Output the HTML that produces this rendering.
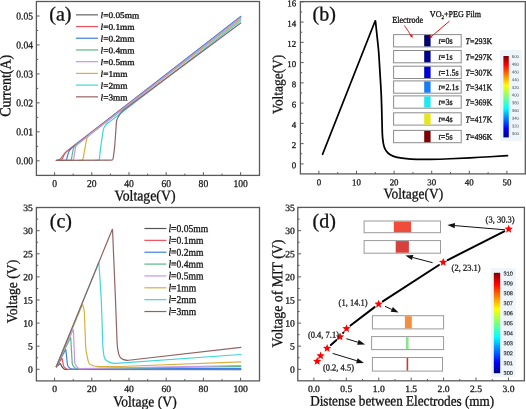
<!DOCTYPE html><html><head><meta charset="utf-8"><style>html,body{margin:0;padding:0;background:#fff;overflow:hidden}svg{display:block;filter:blur(0.3px)}</style></head><body>
<svg width="526" height="409" viewBox="0 0 526 409">
<rect width="526" height="409" fill="#fff"/>
<rect x="36.4" y="1.5" width="223.1" height="173.9" fill="none" stroke="#5a5a5a" stroke-width="1.3"/>
<line x1="54.6" y1="175.4" x2="54.6" y2="172.2" stroke="#5a5a5a" stroke-width="1"/>
<line x1="91.8" y1="175.4" x2="91.8" y2="172.2" stroke="#5a5a5a" stroke-width="1"/>
<line x1="129" y1="175.4" x2="129" y2="172.2" stroke="#5a5a5a" stroke-width="1"/>
<line x1="166.2" y1="175.4" x2="166.2" y2="172.2" stroke="#5a5a5a" stroke-width="1"/>
<line x1="203.4" y1="175.4" x2="203.4" y2="172.2" stroke="#5a5a5a" stroke-width="1"/>
<line x1="240.6" y1="175.4" x2="240.6" y2="172.2" stroke="#5a5a5a" stroke-width="1"/>
<line x1="73.2" y1="175.4" x2="73.2" y2="173.6" stroke="#5a5a5a" stroke-width="1"/>
<line x1="110.4" y1="175.4" x2="110.4" y2="173.6" stroke="#5a5a5a" stroke-width="1"/>
<line x1="147.6" y1="175.4" x2="147.6" y2="173.6" stroke="#5a5a5a" stroke-width="1"/>
<line x1="184.8" y1="175.4" x2="184.8" y2="173.6" stroke="#5a5a5a" stroke-width="1"/>
<line x1="222" y1="175.4" x2="222" y2="173.6" stroke="#5a5a5a" stroke-width="1"/>
<line x1="36.4" y1="160.8" x2="39.6" y2="160.8" stroke="#5a5a5a" stroke-width="1"/>
<line x1="36.4" y1="131.84" x2="39.6" y2="131.84" stroke="#5a5a5a" stroke-width="1"/>
<line x1="36.4" y1="102.88" x2="39.6" y2="102.88" stroke="#5a5a5a" stroke-width="1"/>
<line x1="36.4" y1="73.92" x2="39.6" y2="73.92" stroke="#5a5a5a" stroke-width="1"/>
<line x1="36.4" y1="44.96" x2="39.6" y2="44.96" stroke="#5a5a5a" stroke-width="1"/>
<line x1="36.4" y1="16" x2="39.6" y2="16" stroke="#5a5a5a" stroke-width="1"/>
<line x1="36.4" y1="146.32" x2="38.2" y2="146.32" stroke="#5a5a5a" stroke-width="1"/>
<line x1="36.4" y1="117.36" x2="38.2" y2="117.36" stroke="#5a5a5a" stroke-width="1"/>
<line x1="36.4" y1="88.4" x2="38.2" y2="88.4" stroke="#5a5a5a" stroke-width="1"/>
<line x1="36.4" y1="59.44" x2="38.2" y2="59.44" stroke="#5a5a5a" stroke-width="1"/>
<line x1="36.4" y1="30.48" x2="38.2" y2="30.48" stroke="#5a5a5a" stroke-width="1"/>
<text transform="translate(54.6 187) rotate(0.05) scale(0.92 1)" font-size="10.43" text-anchor="middle" font-family='"Liberation Serif", serif' stroke="#1a1a1a" stroke-width="0.3" fill="#1a1a1a">0</text>
<text transform="translate(91.8 187) rotate(0.05) scale(0.92 1)" font-size="10.43" text-anchor="middle" font-family='"Liberation Serif", serif' stroke="#1a1a1a" stroke-width="0.3" fill="#1a1a1a">20</text>
<text transform="translate(129 187) rotate(0.05) scale(0.92 1)" font-size="10.43" text-anchor="middle" font-family='"Liberation Serif", serif' stroke="#1a1a1a" stroke-width="0.3" fill="#1a1a1a">40</text>
<text transform="translate(166.2 187) rotate(0.05) scale(0.92 1)" font-size="10.43" text-anchor="middle" font-family='"Liberation Serif", serif' stroke="#1a1a1a" stroke-width="0.3" fill="#1a1a1a">60</text>
<text transform="translate(203.4 187) rotate(0.05) scale(0.92 1)" font-size="10.43" text-anchor="middle" font-family='"Liberation Serif", serif' stroke="#1a1a1a" stroke-width="0.3" fill="#1a1a1a">80</text>
<text transform="translate(240.6 187) rotate(0.05) scale(0.92 1)" font-size="10.43" text-anchor="middle" font-family='"Liberation Serif", serif' stroke="#1a1a1a" stroke-width="0.3" fill="#1a1a1a">100</text>
<text transform="translate(33.1 164.3) rotate(0.05) scale(0.92 1)" font-size="10.43" text-anchor="end" font-family='"Liberation Serif", serif' stroke="#1a1a1a" stroke-width="0.3" fill="#1a1a1a">0.00</text>
<text transform="translate(33.1 135.34) rotate(0.05) scale(0.92 1)" font-size="10.43" text-anchor="end" font-family='"Liberation Serif", serif' stroke="#1a1a1a" stroke-width="0.3" fill="#1a1a1a">0.01</text>
<text transform="translate(33.1 106.38) rotate(0.05) scale(0.92 1)" font-size="10.43" text-anchor="end" font-family='"Liberation Serif", serif' stroke="#1a1a1a" stroke-width="0.3" fill="#1a1a1a">0.02</text>
<text transform="translate(33.1 77.42) rotate(0.05) scale(0.92 1)" font-size="10.43" text-anchor="end" font-family='"Liberation Serif", serif' stroke="#1a1a1a" stroke-width="0.3" fill="#1a1a1a">0.03</text>
<text transform="translate(33.1 48.46) rotate(0.05) scale(0.92 1)" font-size="10.43" text-anchor="end" font-family='"Liberation Serif", serif' stroke="#1a1a1a" stroke-width="0.3" fill="#1a1a1a">0.04</text>
<text transform="translate(33.1 19.5) rotate(0.05) scale(0.92 1)" font-size="10.43" text-anchor="end" font-family='"Liberation Serif", serif' stroke="#1a1a1a" stroke-width="0.3" fill="#1a1a1a">0.05</text>
<text transform="translate(145 200.6) rotate(0.05) scale(0.92 1)" font-size="15" text-anchor="middle" font-family='"Liberation Serif", serif' stroke="#111" stroke-width="0.3" fill="#111">Voltage(V)</text>
<text transform="translate(10.4 85.8) rotate(-89.95) scale(0.92 1)" font-size="15.22" text-anchor="middle" font-family='"Liberation Serif", serif' stroke="#111" stroke-width="0.3" fill="#111">Current(A)</text>
<text transform="translate(49.3 20.6) rotate(0.05) scale(1 1)" font-size="20" text-anchor="start" font-family='"Liberation Serif", serif' stroke="#111" stroke-width="0.3" fill="#111">(a)</text>
<line x1="76" y1="14.8" x2="98" y2="14.8" stroke="#8a8a8a" stroke-width="1.6"/>
<text transform="translate(100.6 18.1) rotate(0.05) scale(1.08 1)" font-size="8.61" text-anchor="start" font-family='"Liberation Serif", serif' stroke="#111" stroke-width="0.3" fill="#111"><tspan font-style="italic">l</tspan>=0.05mm</text>
<line x1="76" y1="26.52" x2="98" y2="26.52" stroke="#f0505a" stroke-width="1.2"/>
<text transform="translate(100.6 29.82) rotate(0.05) scale(1.08 1)" font-size="8.61" text-anchor="start" font-family='"Liberation Serif", serif' stroke="#111" stroke-width="0.3" fill="#111"><tspan font-style="italic">l</tspan>=0.1mm</text>
<line x1="76" y1="38.24" x2="98" y2="38.24" stroke="#3f7fe0" stroke-width="1.2"/>
<text transform="translate(100.6 41.54) rotate(0.05) scale(1.08 1)" font-size="8.61" text-anchor="start" font-family='"Liberation Serif", serif' stroke="#111" stroke-width="0.3" fill="#111"><tspan font-style="italic">l</tspan>=0.2mm</text>
<line x1="76" y1="49.96" x2="98" y2="49.96" stroke="#58b882" stroke-width="1.2"/>
<text transform="translate(100.6 53.26) rotate(0.05) scale(1.08 1)" font-size="8.61" text-anchor="start" font-family='"Liberation Serif", serif' stroke="#111" stroke-width="0.3" fill="#111"><tspan font-style="italic">l</tspan>=0.4mm</text>
<line x1="76" y1="61.68" x2="98" y2="61.68" stroke="#c497ea" stroke-width="1.2"/>
<text transform="translate(100.6 64.98) rotate(0.05) scale(1.08 1)" font-size="8.61" text-anchor="start" font-family='"Liberation Serif", serif' stroke="#111" stroke-width="0.3" fill="#111"><tspan font-style="italic">l</tspan>=0.5mm</text>
<line x1="76" y1="73.4" x2="98" y2="73.4" stroke="#dcae3c" stroke-width="1.2"/>
<text transform="translate(100.6 76.7) rotate(0.05) scale(1.08 1)" font-size="8.61" text-anchor="start" font-family='"Liberation Serif", serif' stroke="#111" stroke-width="0.3" fill="#111"><tspan font-style="italic">l</tspan>=1mm</text>
<line x1="76" y1="85.12" x2="98" y2="85.12" stroke="#3ed6de" stroke-width="1.2"/>
<text transform="translate(100.6 88.42) rotate(0.05) scale(1.08 1)" font-size="8.61" text-anchor="start" font-family='"Liberation Serif", serif' stroke="#111" stroke-width="0.3" fill="#111"><tspan font-style="italic">l</tspan>=2mm</text>
<line x1="76" y1="96.84" x2="98" y2="96.84" stroke="#946262" stroke-width="1.2"/>
<text transform="translate(100.6 100.14) rotate(0.05) scale(1.08 1)" font-size="8.61" text-anchor="start" font-family='"Liberation Serif", serif' stroke="#111" stroke-width="0.3" fill="#111"><tspan font-style="italic">l</tspan>=3mm</text>
<path d="M56 160.4 L58.53 159.89 Q60 159.6 60.86 158.37 L62.34 156.23 Q63.2 155 64.22 153.9 L64.4 153.7 Q65.6 152.4 67 151.32 L240.7 17.2" fill="none" stroke="#8a8a8a" stroke-width="1.2" stroke-linejoin="round" stroke-linecap="round" />
<path d="M57.9 160.4 L60.71 159.98 Q61.9 159.8 62.38 158.7 L64 154.98 Q64.6 153.6 65.62 152.5 L65.9 152.2 Q67.2 150.8 68.71 149.63 L240.7 17" fill="none" stroke="#f0505a" stroke-width="1.2" stroke-linejoin="round" stroke-linecap="round" />
<path d="M62.4 160.4 L65.2 160.26 Q66.4 160.2 66.71 159.04 L68.21 153.45 Q68.6 152 69.43 150.75 L69.89 150.06 Q71 148.4 72.58 147.17 L240.7 16.4" fill="none" stroke="#3f7fe0" stroke-width="1.2" stroke-linejoin="round" stroke-linecap="round" />
<path d="M67.2 160.4 L70 160.26 Q71.2 160.2 71.42 159.02 L73.25 148.99 Q73.5 147.6 74.5 146.6 L74.5 146.6 Q75.5 145.6 76.62 144.73 L240.7 17.4" fill="none" stroke="#58b882" stroke-width="1.2" stroke-linejoin="round" stroke-linecap="round" />
<path d="M78.9 160.4 L81.4 160.27 Q82.9 160.2 83.15 158.72 L84.11 152.96 Q84.6 150 85.14 147.05 L86.44 139.97 Q86.8 138 88.06 136.45 L88.14 136.35 Q89.4 134.8 90.99 133.59 L240.7 19.3" fill="none" stroke="#dcae3c" stroke-width="1.2" stroke-linejoin="round" stroke-linecap="round" />
<path d="M95.3 160.4 L97.8 160.27 Q99.3 160.2 99.45 158.71 L100.01 152.98 Q100.5 148 101.25 143.06 L103.23 130.06 Q103.6 127.6 105.2 125.7 L105.2 125.7 Q106.8 123.8 108.8 122.33 L111.48 120.37 Q114.7 118 117.87 115.56 L240.7 20.8" fill="none" stroke="#3ed6de" stroke-width="1.2" stroke-linejoin="round" stroke-linecap="round" />
<path d="M69.5 160.4 L72.3 160.26 Q73.5 160.2 73.68 159.01 L75.37 148.08 Q75.6 146.6 76.56 145.45 L76.6 145.4 Q77.6 144.2 78.83 143.24 L240.7 17.8" fill="none" stroke="#c497ea" stroke-width="1.2" stroke-linejoin="round" stroke-linecap="round" />
<path d="M56.6 160.4 L111.4 160.21 Q112.9 160.2 113.11 158.71 L113.91 152.95 Q114.6 148 114.95 143.01 L116.39 122.49 Q116.6 119.5 118.18 116.95 L119.92 114.15 Q121.5 111.6 123.91 109.81 L240.7 23" fill="none" stroke="#946262" stroke-width="1.2" stroke-linejoin="round" stroke-linecap="round" />
<rect x="300.4" y="1.6" width="224.9" height="172.3" fill="none" stroke="#5a5a5a" stroke-width="1.3"/>
<line x1="318.9" y1="173.9" x2="318.9" y2="170.7" stroke="#5a5a5a" stroke-width="1"/>
<line x1="356.5" y1="173.9" x2="356.5" y2="170.7" stroke="#5a5a5a" stroke-width="1"/>
<line x1="394.1" y1="173.9" x2="394.1" y2="170.7" stroke="#5a5a5a" stroke-width="1"/>
<line x1="431.7" y1="173.9" x2="431.7" y2="170.7" stroke="#5a5a5a" stroke-width="1"/>
<line x1="469.3" y1="173.9" x2="469.3" y2="170.7" stroke="#5a5a5a" stroke-width="1"/>
<line x1="506.9" y1="173.9" x2="506.9" y2="170.7" stroke="#5a5a5a" stroke-width="1"/>
<line x1="337.7" y1="173.9" x2="337.7" y2="172.1" stroke="#5a5a5a" stroke-width="1"/>
<line x1="375.3" y1="173.9" x2="375.3" y2="172.1" stroke="#5a5a5a" stroke-width="1"/>
<line x1="412.9" y1="173.9" x2="412.9" y2="172.1" stroke="#5a5a5a" stroke-width="1"/>
<line x1="450.5" y1="173.9" x2="450.5" y2="172.1" stroke="#5a5a5a" stroke-width="1"/>
<line x1="488.1" y1="173.9" x2="488.1" y2="172.1" stroke="#5a5a5a" stroke-width="1"/>
<line x1="300.4" y1="163.9" x2="303.6" y2="163.9" stroke="#5a5a5a" stroke-width="1"/>
<line x1="300.4" y1="143.64" x2="303.6" y2="143.64" stroke="#5a5a5a" stroke-width="1"/>
<line x1="300.4" y1="123.38" x2="303.6" y2="123.38" stroke="#5a5a5a" stroke-width="1"/>
<line x1="300.4" y1="103.12" x2="303.6" y2="103.12" stroke="#5a5a5a" stroke-width="1"/>
<line x1="300.4" y1="82.86" x2="303.6" y2="82.86" stroke="#5a5a5a" stroke-width="1"/>
<line x1="300.4" y1="62.6" x2="303.6" y2="62.6" stroke="#5a5a5a" stroke-width="1"/>
<line x1="300.4" y1="42.34" x2="303.6" y2="42.34" stroke="#5a5a5a" stroke-width="1"/>
<line x1="300.4" y1="22.08" x2="303.6" y2="22.08" stroke="#5a5a5a" stroke-width="1"/>
<line x1="300.4" y1="1.82" x2="303.6" y2="1.82" stroke="#5a5a5a" stroke-width="1"/>
<line x1="300.4" y1="153.77" x2="302.2" y2="153.77" stroke="#5a5a5a" stroke-width="1"/>
<line x1="300.4" y1="133.51" x2="302.2" y2="133.51" stroke="#5a5a5a" stroke-width="1"/>
<line x1="300.4" y1="113.25" x2="302.2" y2="113.25" stroke="#5a5a5a" stroke-width="1"/>
<line x1="300.4" y1="92.99" x2="302.2" y2="92.99" stroke="#5a5a5a" stroke-width="1"/>
<line x1="300.4" y1="72.73" x2="302.2" y2="72.73" stroke="#5a5a5a" stroke-width="1"/>
<line x1="300.4" y1="52.47" x2="302.2" y2="52.47" stroke="#5a5a5a" stroke-width="1"/>
<line x1="300.4" y1="32.21" x2="302.2" y2="32.21" stroke="#5a5a5a" stroke-width="1"/>
<line x1="300.4" y1="11.95" x2="302.2" y2="11.95" stroke="#5a5a5a" stroke-width="1"/>
<text transform="translate(318.9 185.3) rotate(0.05) scale(1 1)" font-size="8.9" text-anchor="middle" font-family='"Liberation Serif", serif' stroke="#1a1a1a" stroke-width="0.3" fill="#1a1a1a">0</text>
<text transform="translate(356.5 185.3) rotate(0.05) scale(1 1)" font-size="8.9" text-anchor="middle" font-family='"Liberation Serif", serif' stroke="#1a1a1a" stroke-width="0.3" fill="#1a1a1a">10</text>
<text transform="translate(394.1 185.3) rotate(0.05) scale(1 1)" font-size="8.9" text-anchor="middle" font-family='"Liberation Serif", serif' stroke="#1a1a1a" stroke-width="0.3" fill="#1a1a1a">20</text>
<text transform="translate(431.7 185.3) rotate(0.05) scale(1 1)" font-size="8.9" text-anchor="middle" font-family='"Liberation Serif", serif' stroke="#1a1a1a" stroke-width="0.3" fill="#1a1a1a">30</text>
<text transform="translate(469.3 185.3) rotate(0.05) scale(1 1)" font-size="8.9" text-anchor="middle" font-family='"Liberation Serif", serif' stroke="#1a1a1a" stroke-width="0.3" fill="#1a1a1a">40</text>
<text transform="translate(506.9 185.3) rotate(0.05) scale(1 1)" font-size="8.9" text-anchor="middle" font-family='"Liberation Serif", serif' stroke="#1a1a1a" stroke-width="0.3" fill="#1a1a1a">50</text>
<text transform="translate(296.2 168.3) rotate(0.05) scale(1 1)" font-size="8.9" text-anchor="end" font-family='"Liberation Serif", serif' stroke="#1a1a1a" stroke-width="0.3" fill="#1a1a1a">0</text>
<text transform="translate(296.2 148.04) rotate(0.05) scale(1 1)" font-size="8.9" text-anchor="end" font-family='"Liberation Serif", serif' stroke="#1a1a1a" stroke-width="0.3" fill="#1a1a1a">2</text>
<text transform="translate(296.2 127.78) rotate(0.05) scale(1 1)" font-size="8.9" text-anchor="end" font-family='"Liberation Serif", serif' stroke="#1a1a1a" stroke-width="0.3" fill="#1a1a1a">4</text>
<text transform="translate(296.2 107.52) rotate(0.05) scale(1 1)" font-size="8.9" text-anchor="end" font-family='"Liberation Serif", serif' stroke="#1a1a1a" stroke-width="0.3" fill="#1a1a1a">6</text>
<text transform="translate(296.2 87.26) rotate(0.05) scale(1 1)" font-size="8.9" text-anchor="end" font-family='"Liberation Serif", serif' stroke="#1a1a1a" stroke-width="0.3" fill="#1a1a1a">8</text>
<text transform="translate(296.2 67) rotate(0.05) scale(1 1)" font-size="8.9" text-anchor="end" font-family='"Liberation Serif", serif' stroke="#1a1a1a" stroke-width="0.3" fill="#1a1a1a">10</text>
<text transform="translate(296.2 46.74) rotate(0.05) scale(1 1)" font-size="8.9" text-anchor="end" font-family='"Liberation Serif", serif' stroke="#1a1a1a" stroke-width="0.3" fill="#1a1a1a">12</text>
<text transform="translate(296.2 26.48) rotate(0.05) scale(1 1)" font-size="8.9" text-anchor="end" font-family='"Liberation Serif", serif' stroke="#1a1a1a" stroke-width="0.3" fill="#1a1a1a">14</text>
<text transform="translate(296.2 6.22) rotate(0.05) scale(1 1)" font-size="8.9" text-anchor="end" font-family='"Liberation Serif", serif' stroke="#1a1a1a" stroke-width="0.3" fill="#1a1a1a">16</text>
<text transform="translate(413.3 198.4) rotate(0.05) scale(0.92 1)" font-size="14.67" text-anchor="middle" font-family='"Liberation Serif", serif' stroke="#111" stroke-width="0.3" fill="#111">Voltage(V)</text>
<text transform="translate(282.6 84.4) rotate(-89.95) scale(0.92 1)" font-size="14.57" text-anchor="middle" font-family='"Liberation Serif", serif' stroke="#111" stroke-width="0.3" fill="#111">Voltage(V)</text>
<text transform="translate(312.6 20.6) rotate(0.05) scale(1 1)" font-size="20" text-anchor="start" font-family='"Liberation Serif", serif' stroke="#111" stroke-width="0.3" fill="#111">(b)</text>
<path d="M322.6 154.3 L375.03 21.23 Q375.4 20.3 375.51 21.29 L378.28 47.52 Q378.7 51.5 378.94 55.49 L380.79 86.02 Q381.4 96 381.64 106 L382.28 132.5 Q382.4 137.5 383.19 142.44 L383.47 144.17 Q384 147.5 385.8 150.35 L385.92 150.55 Q387.6 153.2 390.3 154.8 L390.3 154.8 Q393 156.4 396.06 157.1 L397.4 157.4 Q401.8 158.4 406.3 158.72 L410.92 159.04 Q418.9 159.6 426.9 159.45 L430 159.39 Q440 159.2 449.99 158.75 L470.01 157.85 Q480 157.4 489.98 156.75 L507.5 155.6" fill="none" stroke="#000" stroke-width="1.75" stroke-linejoin="round" stroke-linecap="round" />
<rect x="393.6" y="34.6" width="67.6" height="12.3" fill="#fff" stroke="#8c8c8c" stroke-width="1"/>
<rect x="424.2" y="35.1" width="6.4" height="11.3" fill="#00006e"/>
<text transform="translate(438.6 43.8) rotate(0.05) scale(0.92 1)" font-size="8.8" text-anchor="start" font-family='"Liberation Serif", serif' stroke="#111" stroke-width="0.3" fill="#111"><tspan font-style="italic">t</tspan>=0s</text>
<text transform="translate(465.6 44) rotate(0.05) scale(0.92 1)" font-size="8.7" text-anchor="start" font-family='"Liberation Serif", serif' stroke="#111" stroke-width="0.3" fill="#111"><tspan font-style="italic">T</tspan>=293K</text>
<rect x="393.6" y="50.5" width="67.6" height="12.3" fill="#fff" stroke="#8c8c8c" stroke-width="1"/>
<rect x="424.2" y="51" width="6.4" height="11.3" fill="#00008c"/>
<text transform="translate(438.6 59.7) rotate(0.05) scale(0.92 1)" font-size="8.8" text-anchor="start" font-family='"Liberation Serif", serif' stroke="#111" stroke-width="0.3" fill="#111"><tspan font-style="italic">t</tspan>=1s</text>
<text transform="translate(465.6 59.9) rotate(0.05) scale(0.92 1)" font-size="8.7" text-anchor="start" font-family='"Liberation Serif", serif' stroke="#111" stroke-width="0.3" fill="#111"><tspan font-style="italic">T</tspan>=297K</text>
<rect x="393.6" y="66.2" width="67.6" height="12.3" fill="#fff" stroke="#8c8c8c" stroke-width="1"/>
<rect x="424.2" y="66.7" width="6.4" height="11.3" fill="#0000d2"/>
<text transform="translate(438.6 75.4) rotate(0.05) scale(0.92 1)" font-size="8.8" text-anchor="start" font-family='"Liberation Serif", serif' stroke="#111" stroke-width="0.3" fill="#111"><tspan font-style="italic">t</tspan>=1.5s</text>
<text transform="translate(465.6 75.6) rotate(0.05) scale(0.92 1)" font-size="8.7" text-anchor="start" font-family='"Liberation Serif", serif' stroke="#111" stroke-width="0.3" fill="#111"><tspan font-style="italic">T</tspan>=307K</text>
<rect x="393.6" y="80.9" width="67.6" height="12.3" fill="#fff" stroke="#8c8c8c" stroke-width="1"/>
<rect x="424.2" y="81.4" width="6.4" height="11.3" fill="#1a7cf2"/>
<text transform="translate(438.6 90.1) rotate(0.05) scale(0.92 1)" font-size="8.8" text-anchor="start" font-family='"Liberation Serif", serif' stroke="#111" stroke-width="0.3" fill="#111"><tspan font-style="italic">t</tspan>=2.1s</text>
<text transform="translate(465.6 90.3) rotate(0.05) scale(0.92 1)" font-size="8.7" text-anchor="start" font-family='"Liberation Serif", serif' stroke="#111" stroke-width="0.3" fill="#111"><tspan font-style="italic">T</tspan>=341K</text>
<rect x="393.6" y="95.9" width="67.6" height="12.3" fill="#fff" stroke="#8c8c8c" stroke-width="1"/>
<rect x="424.2" y="96.4" width="6.4" height="11.3" fill="#22e6f0"/>
<text transform="translate(438.6 105.1) rotate(0.05) scale(0.92 1)" font-size="8.8" text-anchor="start" font-family='"Liberation Serif", serif' stroke="#111" stroke-width="0.3" fill="#111"><tspan font-style="italic">t</tspan>=3s</text>
<text transform="translate(465.6 105.3) rotate(0.05) scale(0.92 1)" font-size="8.7" text-anchor="start" font-family='"Liberation Serif", serif' stroke="#111" stroke-width="0.3" fill="#111"><tspan font-style="italic">T</tspan>=369K</text>
<rect x="393.6" y="112.8" width="67.6" height="12.3" fill="#fff" stroke="#8c8c8c" stroke-width="1"/>
<rect x="424.2" y="113.3" width="6.4" height="11.3" fill="#e6e61e"/>
<text transform="translate(438.6 122) rotate(0.05) scale(0.92 1)" font-size="8.8" text-anchor="start" font-family='"Liberation Serif", serif' stroke="#111" stroke-width="0.3" fill="#111"><tspan font-style="italic">t</tspan>=4s</text>
<text transform="translate(465.6 122.2) rotate(0.05) scale(0.92 1)" font-size="8.7" text-anchor="start" font-family='"Liberation Serif", serif' stroke="#111" stroke-width="0.3" fill="#111"><tspan font-style="italic">T</tspan>=417K</text>
<rect x="393.6" y="130.4" width="67.6" height="12.3" fill="#fff" stroke="#8c8c8c" stroke-width="1"/>
<rect x="424.2" y="130.9" width="6.4" height="11.3" fill="#7e0000"/>
<text transform="translate(438.6 139.6) rotate(0.05) scale(0.92 1)" font-size="8.8" text-anchor="start" font-family='"Liberation Serif", serif' stroke="#111" stroke-width="0.3" fill="#111"><tspan font-style="italic">t</tspan>=5s</text>
<text transform="translate(465.6 139.8) rotate(0.05) scale(0.92 1)" font-size="8.7" text-anchor="start" font-family='"Liberation Serif", serif' stroke="#111" stroke-width="0.3" fill="#111"><tspan font-style="italic">T</tspan>=496K</text>
<text transform="translate(392.2 22.8) rotate(0.05) scale(0.92 1)" font-size="8.8" text-anchor="start" font-family='"Liberation Serif", serif' stroke="#111" stroke-width="0.3" fill="#111">Electrode</text>
<text transform="translate(429.8 16.9) rotate(0.05) scale(0.92 1)" font-size="8.8" text-anchor="start" font-family='"Liberation Serif", serif' stroke="#111" stroke-width="0.3" fill="#111">VO<tspan font-size="5.5" dy="2">2</tspan><tspan dy="-2">+PEG Film</tspan></text>
<line x1="404.4" y1="25.4" x2="411.6" y2="36.4" stroke="#f01010" stroke-width="0.9"/>
<path d="M412.6 38.2 L409.6 35.6 L412.4 34.6 Z" fill="#f01010"/>
<line x1="449.5" y1="21.1" x2="431" y2="36.8" stroke="#f01010" stroke-width="1"/>
<path d="M429.5 38.2 L430.6 34.6 L432.8 37.2 Z" fill="#f01010"/>
<defs><linearGradient id="jet" x1="0" y1="1" x2="0" y2="0"><stop offset="0" stop-color="#00007f"/><stop offset="0.11" stop-color="#0000ff"/><stop offset="0.36" stop-color="#00ffff"/><stop offset="0.5" stop-color="#7fff7f"/><stop offset="0.64" stop-color="#ffff00"/><stop offset="0.89" stop-color="#ff0000"/><stop offset="1" stop-color="#7f0000"/></linearGradient></defs>
<rect x="500" y="50" width="22" height="91" fill="#eef5fb"/>
<rect x="503.4" y="56" width="5.4" height="81.4" fill="url(#jet)"/>
<text transform="translate(511.8 58.1) rotate(0.05) scale(1 1)" font-size="4.3" text-anchor="start" font-family='"Liberation Sans", sans-serif' stroke="#444" stroke-width="0" fill="#444">500</text>
<text transform="translate(511.8 65.8) rotate(0.05) scale(1 1)" font-size="4.3" text-anchor="start" font-family='"Liberation Sans", sans-serif' stroke="#444" stroke-width="0" fill="#444">480</text>
<text transform="translate(511.8 73.5) rotate(0.05) scale(1 1)" font-size="4.3" text-anchor="start" font-family='"Liberation Sans", sans-serif' stroke="#444" stroke-width="0" fill="#444">460</text>
<text transform="translate(511.8 81.2) rotate(0.05) scale(1 1)" font-size="4.3" text-anchor="start" font-family='"Liberation Sans", sans-serif' stroke="#444" stroke-width="0" fill="#444">440</text>
<text transform="translate(511.8 88.9) rotate(0.05) scale(1 1)" font-size="4.3" text-anchor="start" font-family='"Liberation Sans", sans-serif' stroke="#444" stroke-width="0" fill="#444">420</text>
<text transform="translate(511.8 96.6) rotate(0.05) scale(1 1)" font-size="4.3" text-anchor="start" font-family='"Liberation Sans", sans-serif' stroke="#444" stroke-width="0" fill="#444">400</text>
<text transform="translate(511.8 104.3) rotate(0.05) scale(1 1)" font-size="4.3" text-anchor="start" font-family='"Liberation Sans", sans-serif' stroke="#444" stroke-width="0" fill="#444">380</text>
<text transform="translate(511.8 112) rotate(0.05) scale(1 1)" font-size="4.3" text-anchor="start" font-family='"Liberation Sans", sans-serif' stroke="#444" stroke-width="0" fill="#444">360</text>
<text transform="translate(511.8 119.7) rotate(0.05) scale(1 1)" font-size="4.3" text-anchor="start" font-family='"Liberation Sans", sans-serif' stroke="#444" stroke-width="0" fill="#444">340</text>
<text transform="translate(511.8 127.4) rotate(0.05) scale(1 1)" font-size="4.3" text-anchor="start" font-family='"Liberation Sans", sans-serif' stroke="#444" stroke-width="0" fill="#444">320</text>
<text transform="translate(511.8 135.1) rotate(0.05) scale(1 1)" font-size="4.3" text-anchor="start" font-family='"Liberation Sans", sans-serif' stroke="#444" stroke-width="0" fill="#444">300</text>
<rect x="36.4" y="207.5" width="223.1" height="173.4" fill="none" stroke="#5a5a5a" stroke-width="1.3"/>
<line x1="54.6" y1="380.9" x2="54.6" y2="377.7" stroke="#5a5a5a" stroke-width="1"/>
<line x1="91.8" y1="380.9" x2="91.8" y2="377.7" stroke="#5a5a5a" stroke-width="1"/>
<line x1="129" y1="380.9" x2="129" y2="377.7" stroke="#5a5a5a" stroke-width="1"/>
<line x1="166.2" y1="380.9" x2="166.2" y2="377.7" stroke="#5a5a5a" stroke-width="1"/>
<line x1="203.4" y1="380.9" x2="203.4" y2="377.7" stroke="#5a5a5a" stroke-width="1"/>
<line x1="240.6" y1="380.9" x2="240.6" y2="377.7" stroke="#5a5a5a" stroke-width="1"/>
<line x1="73.2" y1="380.9" x2="73.2" y2="379.1" stroke="#5a5a5a" stroke-width="1"/>
<line x1="110.4" y1="380.9" x2="110.4" y2="379.1" stroke="#5a5a5a" stroke-width="1"/>
<line x1="147.6" y1="380.9" x2="147.6" y2="379.1" stroke="#5a5a5a" stroke-width="1"/>
<line x1="184.8" y1="380.9" x2="184.8" y2="379.1" stroke="#5a5a5a" stroke-width="1"/>
<line x1="222" y1="380.9" x2="222" y2="379.1" stroke="#5a5a5a" stroke-width="1"/>
<line x1="36.4" y1="369.3" x2="39.6" y2="369.3" stroke="#5a5a5a" stroke-width="1"/>
<line x1="36.4" y1="346.2" x2="39.6" y2="346.2" stroke="#5a5a5a" stroke-width="1"/>
<line x1="36.4" y1="323.1" x2="39.6" y2="323.1" stroke="#5a5a5a" stroke-width="1"/>
<line x1="36.4" y1="300" x2="39.6" y2="300" stroke="#5a5a5a" stroke-width="1"/>
<line x1="36.4" y1="276.9" x2="39.6" y2="276.9" stroke="#5a5a5a" stroke-width="1"/>
<line x1="36.4" y1="253.8" x2="39.6" y2="253.8" stroke="#5a5a5a" stroke-width="1"/>
<line x1="36.4" y1="230.7" x2="39.6" y2="230.7" stroke="#5a5a5a" stroke-width="1"/>
<line x1="36.4" y1="207.6" x2="39.6" y2="207.6" stroke="#5a5a5a" stroke-width="1"/>
<line x1="36.4" y1="357.75" x2="38.2" y2="357.75" stroke="#5a5a5a" stroke-width="1"/>
<line x1="36.4" y1="334.65" x2="38.2" y2="334.65" stroke="#5a5a5a" stroke-width="1"/>
<line x1="36.4" y1="311.55" x2="38.2" y2="311.55" stroke="#5a5a5a" stroke-width="1"/>
<line x1="36.4" y1="288.45" x2="38.2" y2="288.45" stroke="#5a5a5a" stroke-width="1"/>
<line x1="36.4" y1="265.35" x2="38.2" y2="265.35" stroke="#5a5a5a" stroke-width="1"/>
<line x1="36.4" y1="242.25" x2="38.2" y2="242.25" stroke="#5a5a5a" stroke-width="1"/>
<line x1="36.4" y1="219.15" x2="38.2" y2="219.15" stroke="#5a5a5a" stroke-width="1"/>
<text transform="translate(54.6 392) rotate(0.05) scale(1 1)" font-size="9.6" text-anchor="middle" font-family='"Liberation Serif", serif' stroke="#1a1a1a" stroke-width="0.3" fill="#1a1a1a">0</text>
<text transform="translate(91.8 392) rotate(0.05) scale(1 1)" font-size="9.6" text-anchor="middle" font-family='"Liberation Serif", serif' stroke="#1a1a1a" stroke-width="0.3" fill="#1a1a1a">20</text>
<text transform="translate(129 392) rotate(0.05) scale(1 1)" font-size="9.6" text-anchor="middle" font-family='"Liberation Serif", serif' stroke="#1a1a1a" stroke-width="0.3" fill="#1a1a1a">40</text>
<text transform="translate(166.2 392) rotate(0.05) scale(1 1)" font-size="9.6" text-anchor="middle" font-family='"Liberation Serif", serif' stroke="#1a1a1a" stroke-width="0.3" fill="#1a1a1a">60</text>
<text transform="translate(203.4 392) rotate(0.05) scale(1 1)" font-size="9.6" text-anchor="middle" font-family='"Liberation Serif", serif' stroke="#1a1a1a" stroke-width="0.3" fill="#1a1a1a">80</text>
<text transform="translate(240.6 392) rotate(0.05) scale(1 1)" font-size="9.6" text-anchor="middle" font-family='"Liberation Serif", serif' stroke="#1a1a1a" stroke-width="0.3" fill="#1a1a1a">100</text>
<text transform="translate(32.9 372.7) rotate(0.05) scale(1 1)" font-size="9.6" text-anchor="end" font-family='"Liberation Serif", serif' stroke="#1a1a1a" stroke-width="0.3" fill="#1a1a1a">0</text>
<text transform="translate(32.9 349.6) rotate(0.05) scale(1 1)" font-size="9.6" text-anchor="end" font-family='"Liberation Serif", serif' stroke="#1a1a1a" stroke-width="0.3" fill="#1a1a1a">5</text>
<text transform="translate(32.9 326.5) rotate(0.05) scale(1 1)" font-size="9.6" text-anchor="end" font-family='"Liberation Serif", serif' stroke="#1a1a1a" stroke-width="0.3" fill="#1a1a1a">10</text>
<text transform="translate(32.9 303.4) rotate(0.05) scale(1 1)" font-size="9.6" text-anchor="end" font-family='"Liberation Serif", serif' stroke="#1a1a1a" stroke-width="0.3" fill="#1a1a1a">15</text>
<text transform="translate(32.9 280.3) rotate(0.05) scale(1 1)" font-size="9.6" text-anchor="end" font-family='"Liberation Serif", serif' stroke="#1a1a1a" stroke-width="0.3" fill="#1a1a1a">20</text>
<text transform="translate(32.9 257.2) rotate(0.05) scale(1 1)" font-size="9.6" text-anchor="end" font-family='"Liberation Serif", serif' stroke="#1a1a1a" stroke-width="0.3" fill="#1a1a1a">25</text>
<text transform="translate(32.9 234.1) rotate(0.05) scale(1 1)" font-size="9.6" text-anchor="end" font-family='"Liberation Serif", serif' stroke="#1a1a1a" stroke-width="0.3" fill="#1a1a1a">30</text>
<text transform="translate(32.9 211) rotate(0.05) scale(1 1)" font-size="9.6" text-anchor="end" font-family='"Liberation Serif", serif' stroke="#1a1a1a" stroke-width="0.3" fill="#1a1a1a">35</text>
<text transform="translate(144.9 406.4) rotate(0.05) scale(0.92 1)" font-size="14.78" text-anchor="middle" font-family='"Liberation Serif", serif' stroke="#111" stroke-width="0.3" fill="#111">Voltage (V)</text>
<text transform="translate(17 291.6) rotate(-89.95) scale(0.92 1)" font-size="14.78" text-anchor="middle" font-family='"Liberation Serif", serif' stroke="#111" stroke-width="0.3" fill="#111">Voltage (V)</text>
<text transform="translate(49.8 227.6) rotate(0.05) scale(1 1)" font-size="20" text-anchor="start" font-family='"Liberation Serif", serif' stroke="#111" stroke-width="0.3" fill="#111">(c)</text>
<line x1="144.4" y1="228.5" x2="166.4" y2="228.5" stroke="#555555" stroke-width="1.2"/>
<text transform="translate(168.4 231.9) rotate(0.05) scale(0.92 1)" font-size="10.43" text-anchor="start" font-family='"Liberation Serif", serif' stroke="#111" stroke-width="0.3" fill="#111"><tspan font-style="italic">l</tspan>=0.05mm</text>
<line x1="144.4" y1="240.36" x2="166.4" y2="240.36" stroke="#f0505a" stroke-width="1.2"/>
<text transform="translate(168.4 243.76) rotate(0.05) scale(0.92 1)" font-size="10.43" text-anchor="start" font-family='"Liberation Serif", serif' stroke="#111" stroke-width="0.3" fill="#111"><tspan font-style="italic">l</tspan>=0.1mm</text>
<line x1="144.4" y1="252.22" x2="166.4" y2="252.22" stroke="#3f7fe0" stroke-width="1.2"/>
<text transform="translate(168.4 255.62) rotate(0.05) scale(0.92 1)" font-size="10.43" text-anchor="start" font-family='"Liberation Serif", serif' stroke="#111" stroke-width="0.3" fill="#111"><tspan font-style="italic">l</tspan>=0.2mm</text>
<line x1="144.4" y1="264.08" x2="166.4" y2="264.08" stroke="#58b882" stroke-width="1.2"/>
<text transform="translate(168.4 267.48) rotate(0.05) scale(0.92 1)" font-size="10.43" text-anchor="start" font-family='"Liberation Serif", serif' stroke="#111" stroke-width="0.3" fill="#111"><tspan font-style="italic">l</tspan>=0.4mm</text>
<line x1="144.4" y1="275.94" x2="166.4" y2="275.94" stroke="#c497ea" stroke-width="1.2"/>
<text transform="translate(168.4 279.34) rotate(0.05) scale(0.92 1)" font-size="10.43" text-anchor="start" font-family='"Liberation Serif", serif' stroke="#111" stroke-width="0.3" fill="#111"><tspan font-style="italic">l</tspan>=0.5mm</text>
<line x1="144.4" y1="287.8" x2="166.4" y2="287.8" stroke="#dcae3c" stroke-width="1.2"/>
<text transform="translate(168.4 291.2) rotate(0.05) scale(0.92 1)" font-size="10.43" text-anchor="start" font-family='"Liberation Serif", serif' stroke="#111" stroke-width="0.3" fill="#111"><tspan font-style="italic">l</tspan>=1mm</text>
<line x1="144.4" y1="299.66" x2="166.4" y2="299.66" stroke="#3ed6de" stroke-width="1.2"/>
<text transform="translate(168.4 303.06) rotate(0.05) scale(0.92 1)" font-size="10.43" text-anchor="start" font-family='"Liberation Serif", serif' stroke="#111" stroke-width="0.3" fill="#111"><tspan font-style="italic">l</tspan>=2mm</text>
<line x1="144.4" y1="311.52" x2="166.4" y2="311.52" stroke="#946262" stroke-width="1.2"/>
<text transform="translate(168.4 314.92) rotate(0.05) scale(0.92 1)" font-size="10.43" text-anchor="start" font-family='"Liberation Serif", serif' stroke="#111" stroke-width="0.3" fill="#111"><tspan font-style="italic">l</tspan>=3mm</text>
<path d="M56.3 366.7 L59.54 363.95 Q60.3 363.3 60.72 364.21 L61.77 366.44 Q62.4 367.8 63.66 368.62 L63.7 368.65 Q65 369.5 66.55 369.5 L240.8 369.6" fill="none" stroke="#555555" stroke-width="1.2" stroke-linejoin="round" stroke-linecap="round" />
<path d="M56.3 366.7 L61.65 358.76 Q62.1 358.1 62.24 358.89 L63.34 365.12 Q63.6 366.6 64.71 367.6 L65.11 367.96 Q66.6 369.3 68.6 369.3 L240.8 369.3" fill="none" stroke="#f0505a" stroke-width="1.2" stroke-linejoin="round" stroke-linecap="round" />
<path d="M56.3 366.7 L65.42 349.9 Q65.8 349.2 65.88 350 L67.35 364.31 Q67.5 365.8 68.53 366.89 L69.13 367.54 Q70.5 369 72.5 368.99 L240.8 368.3" fill="none" stroke="#3f7fe0" stroke-width="1.2" stroke-linejoin="round" stroke-linecap="round" />
<path d="M56.3 366.7 L70.35 337.92 Q70.7 337.2 70.75 338 L72.21 363.1 Q72.3 364.6 73.19 365.81 L74.21 367.19 Q75.4 368.8 77.4 368.77 L240.8 366.4" fill="none" stroke="#58b882" stroke-width="1.2" stroke-linejoin="round" stroke-linecap="round" />
<path d="M56.3 366.7 L73.07 329.93 Q73.4 329.2 73.43 330 L74.74 362.5 Q74.8 364 75.72 365.18 L77.17 367.02 Q78.4 368.6 80.4 368.56 L240.8 365.5" fill="none" stroke="#c497ea" stroke-width="1.2" stroke-linejoin="round" stroke-linecap="round" />
<path d="M56.3 366.7 L82.29 304.74 Q82.6 304 82.79 304.78 L83.83 309.06 Q84.3 311 84.38 313 L85.61 345.3 Q85.8 350.3 86.89 355.18 L88.34 361.67 Q89 364.6 91.9 365.39 L93.1 365.71 Q96 366.5 99 366.56 L104 366.65 Q112 366.8 119.99 366.5 L240.8 361.9" fill="none" stroke="#dcae3c" stroke-width="1.2" stroke-linejoin="round" stroke-linecap="round" />
<path d="M56.3 366.7 L98.6 262.94 Q98.9 262.2 98.95 263 L101.11 297.01 Q101.3 300 101.4 303 L102.83 345.14 Q103 350 103.8 354.8 L104.11 356.64 Q104.6 359.6 107.21 361.07 L108.22 361.64 Q111.7 363.6 115.69 363.32 L240.8 354.5" fill="none" stroke="#3ed6de" stroke-width="1.2" stroke-linejoin="round" stroke-linecap="round" />
<path d="M56.3 366.7 L112.12 229.73 Q112.5 228.8 112.54 229.8 L115.37 297 Q115.5 300 115.61 303 L117.12 343.07 Q117.3 348 118.45 352.8 L118.9 354.68 Q119.6 357.6 122.26 358.98 L122.5 359.1 Q125.4 360.6 128.64 360.23 L240.8 347.4" fill="none" stroke="#946262" stroke-width="1.2" stroke-linejoin="round" stroke-linecap="round" />
<rect x="297.8" y="207.4" width="226.6" height="173.4" fill="none" stroke="#5a5a5a" stroke-width="1.3"/>
<line x1="313.9" y1="380.8" x2="313.9" y2="377.6" stroke="#5a5a5a" stroke-width="1"/>
<line x1="346.32" y1="380.8" x2="346.32" y2="377.6" stroke="#5a5a5a" stroke-width="1"/>
<line x1="378.75" y1="380.8" x2="378.75" y2="377.6" stroke="#5a5a5a" stroke-width="1"/>
<line x1="411.17" y1="380.8" x2="411.17" y2="377.6" stroke="#5a5a5a" stroke-width="1"/>
<line x1="443.6" y1="380.8" x2="443.6" y2="377.6" stroke="#5a5a5a" stroke-width="1"/>
<line x1="476.02" y1="380.8" x2="476.02" y2="377.6" stroke="#5a5a5a" stroke-width="1"/>
<line x1="508.45" y1="380.8" x2="508.45" y2="377.6" stroke="#5a5a5a" stroke-width="1"/>
<line x1="330.11" y1="380.8" x2="330.11" y2="379" stroke="#5a5a5a" stroke-width="1"/>
<line x1="362.54" y1="380.8" x2="362.54" y2="379" stroke="#5a5a5a" stroke-width="1"/>
<line x1="394.96" y1="380.8" x2="394.96" y2="379" stroke="#5a5a5a" stroke-width="1"/>
<line x1="427.39" y1="380.8" x2="427.39" y2="379" stroke="#5a5a5a" stroke-width="1"/>
<line x1="459.81" y1="380.8" x2="459.81" y2="379" stroke="#5a5a5a" stroke-width="1"/>
<line x1="492.24" y1="380.8" x2="492.24" y2="379" stroke="#5a5a5a" stroke-width="1"/>
<line x1="297.8" y1="369.3" x2="301" y2="369.3" stroke="#5a5a5a" stroke-width="1"/>
<line x1="297.8" y1="346.2" x2="301" y2="346.2" stroke="#5a5a5a" stroke-width="1"/>
<line x1="297.8" y1="323.1" x2="301" y2="323.1" stroke="#5a5a5a" stroke-width="1"/>
<line x1="297.8" y1="300" x2="301" y2="300" stroke="#5a5a5a" stroke-width="1"/>
<line x1="297.8" y1="276.9" x2="301" y2="276.9" stroke="#5a5a5a" stroke-width="1"/>
<line x1="297.8" y1="253.8" x2="301" y2="253.8" stroke="#5a5a5a" stroke-width="1"/>
<line x1="297.8" y1="230.7" x2="301" y2="230.7" stroke="#5a5a5a" stroke-width="1"/>
<line x1="297.8" y1="207.6" x2="301" y2="207.6" stroke="#5a5a5a" stroke-width="1"/>
<line x1="297.8" y1="357.75" x2="299.6" y2="357.75" stroke="#5a5a5a" stroke-width="1"/>
<line x1="297.8" y1="334.65" x2="299.6" y2="334.65" stroke="#5a5a5a" stroke-width="1"/>
<line x1="297.8" y1="311.55" x2="299.6" y2="311.55" stroke="#5a5a5a" stroke-width="1"/>
<line x1="297.8" y1="288.45" x2="299.6" y2="288.45" stroke="#5a5a5a" stroke-width="1"/>
<line x1="297.8" y1="265.35" x2="299.6" y2="265.35" stroke="#5a5a5a" stroke-width="1"/>
<line x1="297.8" y1="242.25" x2="299.6" y2="242.25" stroke="#5a5a5a" stroke-width="1"/>
<line x1="297.8" y1="219.15" x2="299.6" y2="219.15" stroke="#5a5a5a" stroke-width="1"/>
<text transform="translate(313.9 392.1) rotate(0.05) scale(1 1)" font-size="9.6" text-anchor="middle" font-family='"Liberation Serif", serif' stroke="#1a1a1a" stroke-width="0.3" fill="#1a1a1a">0.0</text>
<text transform="translate(346.32 392.1) rotate(0.05) scale(1 1)" font-size="9.6" text-anchor="middle" font-family='"Liberation Serif", serif' stroke="#1a1a1a" stroke-width="0.3" fill="#1a1a1a">0.5</text>
<text transform="translate(378.75 392.1) rotate(0.05) scale(1 1)" font-size="9.6" text-anchor="middle" font-family='"Liberation Serif", serif' stroke="#1a1a1a" stroke-width="0.3" fill="#1a1a1a">1.0</text>
<text transform="translate(411.17 392.1) rotate(0.05) scale(1 1)" font-size="9.6" text-anchor="middle" font-family='"Liberation Serif", serif' stroke="#1a1a1a" stroke-width="0.3" fill="#1a1a1a">1.5</text>
<text transform="translate(443.6 392.1) rotate(0.05) scale(1 1)" font-size="9.6" text-anchor="middle" font-family='"Liberation Serif", serif' stroke="#1a1a1a" stroke-width="0.3" fill="#1a1a1a">2.0</text>
<text transform="translate(476.02 392.1) rotate(0.05) scale(1 1)" font-size="9.6" text-anchor="middle" font-family='"Liberation Serif", serif' stroke="#1a1a1a" stroke-width="0.3" fill="#1a1a1a">2.5</text>
<text transform="translate(508.45 392.1) rotate(0.05) scale(1 1)" font-size="9.6" text-anchor="middle" font-family='"Liberation Serif", serif' stroke="#1a1a1a" stroke-width="0.3" fill="#1a1a1a">3.0</text>
<text transform="translate(294.9 372.7) rotate(0.05) scale(1 1)" font-size="9.6" text-anchor="end" font-family='"Liberation Serif", serif' stroke="#1a1a1a" stroke-width="0.3" fill="#1a1a1a">0</text>
<text transform="translate(294.9 349.6) rotate(0.05) scale(1 1)" font-size="9.6" text-anchor="end" font-family='"Liberation Serif", serif' stroke="#1a1a1a" stroke-width="0.3" fill="#1a1a1a">5</text>
<text transform="translate(294.9 326.5) rotate(0.05) scale(1 1)" font-size="9.6" text-anchor="end" font-family='"Liberation Serif", serif' stroke="#1a1a1a" stroke-width="0.3" fill="#1a1a1a">10</text>
<text transform="translate(294.9 303.4) rotate(0.05) scale(1 1)" font-size="9.6" text-anchor="end" font-family='"Liberation Serif", serif' stroke="#1a1a1a" stroke-width="0.3" fill="#1a1a1a">15</text>
<text transform="translate(294.9 280.3) rotate(0.05) scale(1 1)" font-size="9.6" text-anchor="end" font-family='"Liberation Serif", serif' stroke="#1a1a1a" stroke-width="0.3" fill="#1a1a1a">20</text>
<text transform="translate(294.9 257.2) rotate(0.05) scale(1 1)" font-size="9.6" text-anchor="end" font-family='"Liberation Serif", serif' stroke="#1a1a1a" stroke-width="0.3" fill="#1a1a1a">25</text>
<text transform="translate(294.9 234.1) rotate(0.05) scale(1 1)" font-size="9.6" text-anchor="end" font-family='"Liberation Serif", serif' stroke="#1a1a1a" stroke-width="0.3" fill="#1a1a1a">30</text>
<text transform="translate(294.9 211) rotate(0.05) scale(1 1)" font-size="9.6" text-anchor="end" font-family='"Liberation Serif", serif' stroke="#1a1a1a" stroke-width="0.3" fill="#1a1a1a">35</text>
<text transform="translate(402.2 405.6) rotate(0.05) scale(0.92 1)" font-size="14.35" text-anchor="middle" font-family='"Liberation Serif", serif' stroke="#111" stroke-width="0.3" fill="#111">Distense between Electrodes (mm)</text>
<text transform="translate(282.2 293.6) rotate(-89.95) scale(0.92 1)" font-size="15" text-anchor="middle" font-family='"Liberation Serif", serif' stroke="#111" stroke-width="0.3" fill="#111">Voltage of MIT (V)</text>
<text transform="translate(312.6 227.6) rotate(0.05) scale(1 1)" font-size="20" text-anchor="start" font-family='"Liberation Serif", serif' stroke="#111" stroke-width="0.3" fill="#111">(d)</text>
<rect x="364.1" y="221" width="76.4" height="11.7" fill="#fff" stroke="#9a9a9a" stroke-width="1"/>
<rect x="393.8" y="221.5" width="17.3" height="10.7" fill="#f04c3c"/>
<rect x="364.1" y="240.6" width="76.4" height="12.6" fill="#fff" stroke="#9a9a9a" stroke-width="1"/>
<rect x="395.7" y="241.1" width="13.2" height="11.6" fill="#d8403c"/>
<rect x="372.4" y="315.7" width="71.2" height="13.2" fill="#fff" stroke="#9a9a9a" stroke-width="1"/>
<rect x="404.9" y="316.2" width="6.9" height="12.2" fill="#f29040"/>
<rect x="371.6" y="336.6" width="72" height="13" fill="#fff" stroke="#9a9a9a" stroke-width="1"/>
<rect x="405.9" y="337.1" width="2.7" height="12" fill="#8ae68a"/>
<rect x="372.4" y="357.5" width="70.1" height="13.6" fill="#fff" stroke="#9a9a9a" stroke-width="1"/>
<rect x="406.6" y="358" width="1.6" height="12.6" fill="#c83a30"/>
<rect x="490.7" y="268" width="25" height="109" fill="#eef5fb"/>
<rect x="493.8" y="272.8" width="6.4" height="100.4" fill="url(#jet)"/>
<text transform="translate(503.6 275.4) rotate(0.05) scale(1 1)" font-size="5.6" text-anchor="start" font-family='"Liberation Sans", sans-serif' stroke="#2a2a2a" stroke-width="0.15" fill="#2a2a2a">310</text>
<text transform="translate(503.6 285.37) rotate(0.05) scale(1 1)" font-size="5.6" text-anchor="start" font-family='"Liberation Sans", sans-serif' stroke="#2a2a2a" stroke-width="0.15" fill="#2a2a2a">309</text>
<text transform="translate(503.6 295.34) rotate(0.05) scale(1 1)" font-size="5.6" text-anchor="start" font-family='"Liberation Sans", sans-serif' stroke="#2a2a2a" stroke-width="0.15" fill="#2a2a2a">308</text>
<text transform="translate(503.6 305.31) rotate(0.05) scale(1 1)" font-size="5.6" text-anchor="start" font-family='"Liberation Sans", sans-serif' stroke="#2a2a2a" stroke-width="0.15" fill="#2a2a2a">307</text>
<text transform="translate(503.6 315.28) rotate(0.05) scale(1 1)" font-size="5.6" text-anchor="start" font-family='"Liberation Sans", sans-serif' stroke="#2a2a2a" stroke-width="0.15" fill="#2a2a2a">306</text>
<text transform="translate(503.6 325.25) rotate(0.05) scale(1 1)" font-size="5.6" text-anchor="start" font-family='"Liberation Sans", sans-serif' stroke="#2a2a2a" stroke-width="0.15" fill="#2a2a2a">305</text>
<text transform="translate(503.6 335.22) rotate(0.05) scale(1 1)" font-size="5.6" text-anchor="start" font-family='"Liberation Sans", sans-serif' stroke="#2a2a2a" stroke-width="0.15" fill="#2a2a2a">304</text>
<text transform="translate(503.6 345.19) rotate(0.05) scale(1 1)" font-size="5.6" text-anchor="start" font-family='"Liberation Sans", sans-serif' stroke="#2a2a2a" stroke-width="0.15" fill="#2a2a2a">303</text>
<text transform="translate(503.6 355.16) rotate(0.05) scale(1 1)" font-size="5.6" text-anchor="start" font-family='"Liberation Sans", sans-serif' stroke="#2a2a2a" stroke-width="0.15" fill="#2a2a2a">302</text>
<text transform="translate(503.6 365.13) rotate(0.05) scale(1 1)" font-size="5.6" text-anchor="start" font-family='"Liberation Sans", sans-serif' stroke="#2a2a2a" stroke-width="0.15" fill="#2a2a2a">301</text>
<text transform="translate(503.6 375.1) rotate(0.05) scale(1 1)" font-size="5.6" text-anchor="start" font-family='"Liberation Sans", sans-serif' stroke="#2a2a2a" stroke-width="0.15" fill="#2a2a2a">300</text>
<path d="M330.83 344.97 L336.27 340.13" fill="none" stroke="#000" stroke-width="2.0" stroke-linejoin="round" stroke-linecap="round" stroke-linecap="butt"/>
<path d="M343.11 332.88 L343.39 332.52" fill="none" stroke="#000" stroke-width="2.0" stroke-linejoin="round" stroke-linecap="round" stroke-linecap="butt"/>
<path d="M350.47 325.57 L374.63 307.13" fill="none" stroke="#000" stroke-width="2.0" stroke-linejoin="round" stroke-linecap="round" stroke-linecap="butt"/>
<path d="M382.8 301.38 L439 265.02" fill="none" stroke="#000" stroke-width="2.0" stroke-linejoin="round" stroke-linecap="round" stroke-linecap="butt"/>
<path d="M447.66 260.04 L504.24 231.36" fill="none" stroke="#000" stroke-width="2.0" stroke-linejoin="round" stroke-linecap="round" stroke-linecap="butt"/>
<polygon points="317.2,356.9 318.32,359.76 321.38,359.94 319.01,361.89 319.79,364.86 317.2,363.2 314.61,364.86 315.39,361.89 313.02,359.94 316.08,359.76" fill="#ff0000"/>
<polygon points="320.6,351.4 321.72,354.26 324.78,354.44 322.41,356.39 323.19,359.36 320.6,357.7 318.01,359.36 318.79,356.39 316.42,354.44 319.48,354.26" fill="#ff0000"/>
<polygon points="327.1,343.9 328.22,346.76 331.28,346.94 328.91,348.89 329.69,351.86 327.1,350.2 324.51,351.86 325.29,348.89 322.92,346.94 325.98,346.76" fill="#ff0000"/>
<polygon points="340,332.4 341.12,335.26 344.18,335.44 341.81,337.39 342.59,340.36 340,338.7 337.41,340.36 338.19,337.39 335.82,335.44 338.88,335.26" fill="#ff0000"/>
<polygon points="346.5,324.2 347.62,327.06 350.68,327.24 348.31,329.19 349.09,332.16 346.5,330.5 343.91,332.16 344.69,329.19 342.32,327.24 345.38,327.06" fill="#ff0000"/>
<polygon points="378.6,299.7 379.72,302.56 382.78,302.74 380.41,304.69 381.19,307.66 378.6,306 376.01,307.66 376.79,304.69 374.42,302.74 377.48,302.56" fill="#ff0000"/>
<polygon points="443.2,257.9 444.32,260.76 447.38,260.94 445.01,262.89 445.79,265.86 443.2,264.2 440.61,265.86 441.39,262.89 439.02,260.94 442.08,260.76" fill="#ff0000"/>
<polygon points="508.7,224.7 509.82,227.56 512.88,227.74 510.51,229.69 511.29,232.66 508.7,231 506.11,232.66 506.89,229.69 504.52,227.74 507.58,227.56" fill="#ff0000"/>
<line x1="505" y1="229.8" x2="454.87" y2="225.62" stroke="#111" stroke-width="1.0"/>
<polygon points="447.4,225 455.09,223.03 454.66,228.21" fill="#111"/>
<line x1="432.6" y1="262.7" x2="412.66" y2="257.49" stroke="#111" stroke-width="1.0"/>
<polygon points="405.4,255.6 413.31,254.98 412,260.01" fill="#111"/>
<line x1="385" y1="306.3" x2="391.79" y2="309.45" stroke="#111" stroke-width="1.0"/>
<polygon points="398.6,312.6 390.7,311.81 392.89,307.09" fill="#111"/>
<line x1="346.3" y1="338.7" x2="357.92" y2="342.22" stroke="#111" stroke-width="1.0"/>
<polygon points="365.1,344.4 357.17,344.71 358.68,339.74" fill="#111"/>
<line x1="332.6" y1="353.4" x2="356.82" y2="360.73" stroke="#111" stroke-width="1.0"/>
<polygon points="364,362.9 356.07,363.22 357.57,358.24" fill="#111"/>
<text transform="translate(485.6 222.6) rotate(0.05) scale(0.92 1)" font-size="9.24" text-anchor="start" font-family='"Liberation Serif", serif' stroke="#222" stroke-width="0.3" fill="#222">(3, 30.3)</text>
<text transform="translate(451.6 270.8) rotate(0.05) scale(0.92 1)" font-size="9.24" text-anchor="start" font-family='"Liberation Serif", serif' stroke="#222" stroke-width="0.3" fill="#222">(2, 23.1)</text>
<text transform="translate(338.6 305.6) rotate(0.05) scale(0.92 1)" font-size="9.24" text-anchor="start" font-family='"Liberation Serif", serif' stroke="#222" stroke-width="0.3" fill="#222">(1, 14.1)</text>
<text transform="translate(307.9 337.8) rotate(0.05) scale(0.92 1)" font-size="9.24" text-anchor="start" font-family='"Liberation Serif", serif' stroke="#222" stroke-width="0.3" fill="#222">(0.4, 7.1)</text>
<text transform="translate(322.9 370.4) rotate(0.05) scale(0.92 1)" font-size="9.24" text-anchor="start" font-family='"Liberation Serif", serif' stroke="#222" stroke-width="0.3" fill="#222">(0.2, 4.5)</text>
</svg></body></html>
